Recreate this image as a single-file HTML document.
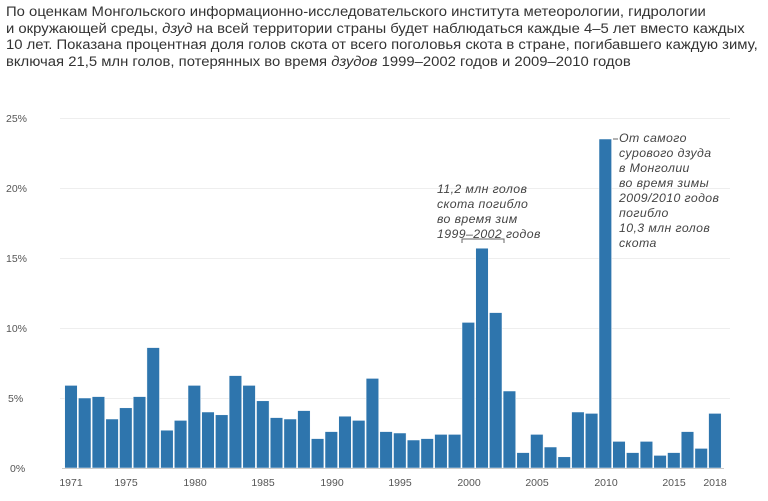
<!DOCTYPE html><html><head><meta charset="utf-8"><style>
body{margin:0;width:768px;height:501px;background:#fff;overflow:hidden;font-family:"Liberation Sans",sans-serif}
.h{position:absolute;left:6px;top:4px;font-size:13.5px;line-height:16.5px;color:#333;width:700px;white-space:nowrap;transform:scaleX(1.1);transform-origin:0 0}
</style></head><body>
<div class="h">По оценкам Монгольского информационно-исследовательского института метеорологии, гидрологии<br>и окружающей среды, <i>дзуд</i> на всей территории страны будет наблюдаться каждые 4–5 лет вместо каждых<br>10 лет. Показана процентная доля голов скота от всего поголовья скота в стране, погибавшего каждую зиму,<br>включая 21,5 млн голов, потерянных во время <i>дзудов</i> 1999–2002 годов и 2009–2010 годов</div>
<svg width="768" height="501" style="position:absolute;left:0;top:0" font-family="Liberation Sans, sans-serif">
<g stroke="#eee" stroke-width="1">
<line x1="60" x2="730" y1="118.5" y2="118.5"/><line x1="60" x2="730" y1="188.5" y2="188.5"/><line x1="60" x2="730" y1="258.5" y2="258.5"/><line x1="60" x2="730" y1="328.5" y2="328.5"/><line x1="60" x2="730" y1="398.5" y2="398.5"/>
</g>
<g font-size="10.5" fill="#555" text-anchor="start">
<text x="6" y="122">25%</text><text x="6" y="192">20%</text><text x="6" y="262">15%</text><text x="6" y="332">10%</text><text x="8" y="402">5%</text><text x="10" y="472">0%</text>
</g>
<g id="b" fill="#2e75ad" stroke="#fff" stroke-width="0.5"></g>
<line x1="62" x2="724" y1="468.5" y2="468.5" stroke="#ccc"/>
<g font-size="10.5" fill="#555" text-anchor="middle">
<text x="71" y="486">1971</text><text x="126" y="486">1975</text><text x="195" y="486">1980</text><text x="263" y="486">1985</text><text x="332" y="486">1990</text><text x="400" y="486">1995</text><text x="469" y="486">2000</text><text x="537" y="486">2005</text><text x="606" y="486">2010</text><text x="674" y="486">2015</text><text x="715" y="486">2018</text>
</g>
<path d="M462 243V239H504V243" fill="none" stroke="#666"/>
<g font-size="12.3" font-style="italic" fill="#444" letter-spacing="0.4">
<text x="437" y="193">11,2 млн голов</text><text x="437" y="208">скота погибло</text><text x="437" y="223">во время зим</text><text x="437" y="238">1999–2002 годов</text>
<text x="619" y="142">От самого</text><text x="619" y="157">сурового дзуда</text><text x="619" y="172">в Монголии</text><text x="619" y="187">во время зимы</text><text x="619" y="202">2009/2010 годов</text><text x="619" y="217">погибло</text><text x="619" y="232">10,3 млн голов</text><text x="619" y="247">скота</text>
</g>
<line x1="613" x2="618" y1="139" y2="139" stroke="#666"/>
</svg>
<script>
var v=[5.9,5.0,5.1,3.5,4.3,5.1,8.6,2.7,3.4,5.9,4.0,3.8,6.6,5.9,4.8,3.6,3.5,4.1,2.1,2.6,3.7,3.4,6.4,2.6,2.5,2.0,2.1,2.4,2.4,10.4,15.7,11.1,5.5,1.1,2.4,1.5,0.8,4.0,3.9,23.5,1.9,1.1,1.9,0.9,1.1,2.6,1.4,3.9];
var g=document.getElementById('b'),s='';
v.forEach(function(d,i){var cx=71+i*13.7,h=d*14;s+='<rect x="'+(cx-6.3).toFixed(1)+'" y="'+(468-h).toFixed(1)+'" width="12.6" height="'+h.toFixed(1)+'"/>';});
g.innerHTML=s;
</script>
</body></html>
